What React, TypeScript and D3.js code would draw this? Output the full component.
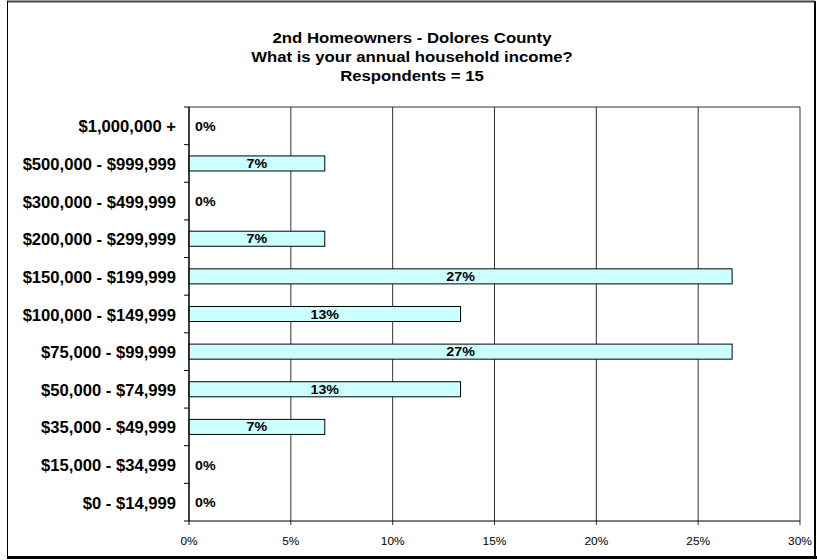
import React from "react";
import * as d3 from "d3";

const categories = [
  "$1,000,000 +",
  "$500,000 - $999,999",
  "$300,000 - $499,999",
  "$200,000 - $299,999",
  "$150,000 - $199,999",
  "$100,000 - $149,999",
  "$75,000 - $99,999",
  "$50,000 - $74,999",
  "$35,000 - $49,999",
  "$15,000 - $34,999",
  "$0 - $14,999",
];
const counts = [0, 1, 0, 1, 4, 2, 4, 2, 1, 0, 0];
const respondents = 15;
const xTicks = [0, 0.05, 0.1, 0.15, 0.2, 0.25, 0.3];
const titleLines = [
  "2nd Homeowners - Dolores County",
  "What is your annual household income?",
  "Respondents = 15",
];

function T(props: { x: number; y: number; anchor?: string; size: number; sx?: number; bold?: boolean; children: React.ReactNode }) {
  const { x, y, anchor, size, bold, children } = props;
  const sx = props.sx ?? 1.08;
  return (
    <text
      x={0}
      y={0}
      transform={`translate(${x},${y}) scale(${sx},1)`}
      textAnchor={anchor || "start"}
      fontSize={size}
      fontWeight={bold ? "bold" : "normal"}
      fill="#000"
    >
      {children}
    </text>
  );
}

export default function App() {
  const W = 817, H = 560;
  const left = 189, right = 800, top = 107, bottom = 521;
  const x = d3.scaleLinear().domain([0, 0.3]).range([left, right]);
  const y = d3.scaleBand<string>().domain(categories).range([top, bottom]).paddingInner(0.6).paddingOuter(0.3);
  const band = d3.scaleBand<string>().domain(categories).range([top, bottom]);
  const fmt = d3.format(".0%");
  const font = "Arial, 'Liberation Sans', sans-serif";
  return (
    <svg width={W} height={H} style={{ position: "absolute", left: 0, top: 0 }} fontFamily={font}>
      <rect x={0} y={0} width={W} height={H} fill="#fff" />
      <line x1={7} x2={815} y1={1.5} y2={1.5} stroke="#444" strokeWidth={2} />
      <line x1={7.5} x2={7.5} y1={1} y2={557} stroke="#000" strokeWidth={1} />
      <line x1={7} x2={817} y1={557.5} y2={557.5} stroke="#000" strokeWidth={3} />
      <line x1={815} x2={815} y1={1} y2={559} stroke="#000" strokeWidth={2} />
      {titleLines.map((t, i) => (
        <T key={i} x={412} y={43 + i * 19} anchor="middle" size={15.5} bold>{t}</T>
      ))}
      {xTicks.map((t, i) => (
        <g key={i}>
          <line x1={x(t)} x2={x(t)} y1={top} y2={bottom + 4} stroke={i === 0 ? "#000" : "#333"} strokeWidth={1} />
          <T x={x(t)} y={545} anchor="middle" size={11}>{fmt(t)}</T>
        </g>
      ))}
      <line x1={left} x2={right} y1={top} y2={top} stroke="#333" />
      <line x1={left} x2={right} y1={bottom} y2={bottom} stroke="#000" />
      {categories.map((c, i) => (
        <line key={"t" + i} x1={left - 5} x2={left} y1={band(c)!} y2={band(c)!} stroke="#000" />
      ))}
      <line x1={left - 5} x2={left} y1={bottom} y2={bottom} stroke="#000" />
      {categories.map((c, i) => {
        const v = counts[i] / respondents;
        const cy = band(c)! + band.bandwidth() / 2;
        return (
          <g key={c}>
            <T x={176} y={cy + 6.5} anchor="end" size={16.3} sx={1.02} bold>{c}</T>
            {v > 0 ? (
              <>
                <rect x={x(0)} y={y(c)!} width={x(v) - x(0)} height={y.bandwidth()} fill="#ccffff" stroke="#000" strokeWidth={1} />
                <T x={(x(0) + x(v)) / 2} y={cy + 4.5} anchor="middle" size={12.5} sx={1.14} bold>{fmt(v)}</T>
              </>
            ) : (
              <T x={195} y={cy + 5} size={12.5} sx={1.14} bold>{fmt(v)}</T>
            )}
          </g>
        );
      })}
      <line x1={left} x2={left} y1={top} y2={bottom} stroke="#000" />
    </svg>
  );
}
